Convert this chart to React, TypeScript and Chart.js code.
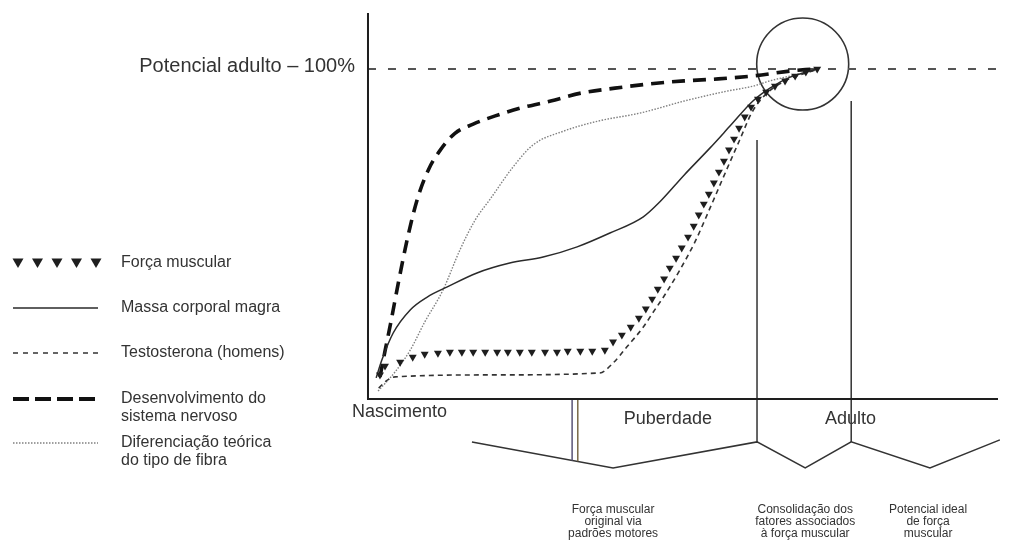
import React, { useEffect, useRef } from "react";
import { Chart, registerables } from "chart.js";

Chart.register(...registerables);

// ---------------- data (x: life course, 0 = birth … 100 = adult end; y: % of adult potential)
const potencialAdulto = 100;
const potencialLabel = "Potencial adulto – 100%";

const stageLabels = ["Nascimento", "Puberdade", "Adulto"];
const stageX = [5.0, 47.6, 76.6];
const stageY = [-3.8, -6.2, -6.2];

const legendNames = [
  ["Força muscular"],
  ["Massa corporal magra"],
  ["Testosterona (homens)"],
  ["Desenvolvimento do", "sistema nervoso"],
  ["Diferenciação teórica", "do tipo de fibra"],
];

// each triangle mark of "Força muscular"
const forcaMuscular: number[][] = [
  [1.9, 7.3], [2.7, 10.0], [5.1, 11.2], [7.1, 12.7], [9.0, 13.6], [11.1, 13.9],
  [13.0, 14.2], [14.9, 14.2], [16.7, 14.2], [18.6, 14.2], [20.5, 14.2], [22.2, 14.2],
  [24.1, 14.2], [26.0, 14.2], [28.1, 14.2], [30.0, 14.2], [31.7, 14.5], [33.7, 14.5],
  [35.6, 14.5], [37.6, 14.8], [38.9, 17.3], [40.3, 19.4], [41.7, 21.8], [43.0, 24.5],
  [44.1, 27.3], [45.1, 30.3], [46.0, 33.3], [47.0, 36.4], [47.9, 39.7], [48.9, 42.7],
  [49.8, 45.8], [50.8, 49.1], [51.7, 52.4], [52.5, 55.8], [53.3, 59.1], [54.1, 62.1],
  [54.9, 65.5], [55.7, 68.8], [56.5, 72.1], [57.3, 75.5], [58.1, 78.8], [58.9, 82.1],
  [59.8, 85.5], [60.8, 88.5], [61.9, 90.9], [63.2, 93.0], [64.6, 94.8], [66.2, 96.4],
  [67.8, 97.9], [69.5, 99.1], [71.3, 100],
];

const massaCorporal: number[][] = [
  [1.3, 6.4], [2.2, 11.8], [4.0, 20.0], [6.7, 27.0], [9.4, 30.9], [12.5, 33.9],
  [17.3, 38.2], [22.5, 41.2], [27.8, 43.0], [33.2, 46.1], [38.4, 50.3], [43.7, 55.2],
  [46.3, 59.7], [50.2, 67.9], [54.3, 76.1], [57.6, 83.0], [61.1, 90.3], [63.8, 94.2],
  [67.1, 97.6], [71.3, 100],
];

const testosterona: number[][] = [
  [1.7, 3.3], [2.9, 5.5], [4.3, 6.7], [19.8, 7.3], [36.8, 7.9], [38.9, 10.9],
  [41.1, 15.8], [43.7, 21.8], [45.2, 26.1], [47.1, 31.5], [49.5, 39.1], [51.9, 47.6],
  [54.3, 57.9], [56.7, 68.5], [59.0, 78.5], [60.9, 86.7], [63.0, 92.1], [66.2, 96.4],
  [71.0, 99.7],
];

const sistemaNervoso: number[][] = [
  [1.9, 6.7], [2.7, 14.5], [3.6, 23.0], [4.9, 36.0], [6.3, 49.0], [7.9, 61.0],
  [9.6, 69.5], [11.5, 75.5], [13.8, 80.5], [16.7, 83.3], [20.2, 85.8], [24.3, 88.2],
  [29.0, 90.3], [33.8, 92.7], [39.2, 94.2], [44.8, 95.5], [50.2, 96.4], [55.6, 97.0],
  [61.1, 97.9], [67.1, 99.4], [70.6, 100],
];

const tipoFibra: number[][] = [
  [1.6, 2.4], [4.3, 8.2], [6.7, 14.8], [9.0, 23.3], [11.9, 33.0], [14.6, 45.2],
  [17.0, 54.2], [19.4, 60.6], [22.9, 70.0], [26.2, 77.0], [31.1, 81.2], [36.5, 84.2],
  [43.3, 86.7], [50.2, 90.3], [57.0, 93.3], [61.1, 94.8], [63.8, 96.4], [67.1, 97.9],
  [70.6, 99.4],
];

// axes of the schema
const axisTop = 117;
const axisEnd = 100;
const refLineEnd = 100.6;

// phase boundaries: [x, yTop, yBottom]
const phaseLines: number[][] = [
  [32.4, 0, -18.6],
  [33.3, 0, -18.9],
  [61.75, 78.5, -13.0],
  [76.7, 90.3, -13.0],
];
const phaseLineColors = ["#5a5478", "#7a6a4a", "#333", "#333"];

// brackets under the time axis
const bracketX = [16.5, 38.9, 61.75, 69.4, 76.7, 89.2, 100.3];
const bracketY = [-13.0, -20.9, -13.0, -20.9, -13.0, -20.9, -12.4];

const bracketLabels = [
  ["Força muscular", "original via", "padrões motores"],
  ["Consolidação dos", "fatores associados", "à força muscular"],
  ["Potencial ideal", "de força", "muscular"],
];
const bracketLabelX = [38.9, 69.4, 88.9];
const bracketLabelY = [-33.6, -37.3, -40.9];

// highlighted convergence circle
const circleCenter = { x: 69.0, y: 101.5 };

// ---------------- layout / style
const W = 1014;
const H = 544;
const X_MIN = -58.41;
const X_MAX = 102.54;
const Y_MIN = -43.94;
const Y_MAX = 120.91;
const FONT = '"Liberation Sans", Arial, Helvetica, sans-serif';
const TEXT = "#333";
const INK = "#1e1e1e";
const legendRowY = [263, 308, 353, 399, 443];

const toXY = (a: number[][]) => a.map(([x, y]) => ({ x, y }));

const schemaTextPlugin = {
  id: "schemaText",
  afterDatasetsDraw(chart: any) {
    const { ctx } = chart;
    const xs = chart.scales.x;
    const ys = chart.scales.y;
    ctx.save();
    ctx.fillStyle = TEXT;

    // 100% label
    ctx.font = `20px ${FONT}`;
    ctx.textAlign = "right";
    ctx.textBaseline = "middle";
    ctx.fillText(potencialLabel, xs.getPixelForValue(0) - 13, ys.getPixelForValue(potencialAdulto) - 3);

    // stage labels
    ctx.font = `18px ${FONT}`;
    ctx.textAlign = "center";
    stageLabels.forEach((t, i) => {
      ctx.fillText(t, xs.getPixelForValue(stageX[i]), ys.getPixelForValue(stageY[i]));
    });

    // bracket labels
    ctx.font = `12px ${FONT}`;
    bracketLabels.forEach((lines, i) => {
      lines.forEach((t, j) => {
        ctx.fillText(t, xs.getPixelForValue(bracketLabelX[i]), ys.getPixelForValue(bracketLabelY[j]));
      });
    });

    // legend
    const x0 = 13;
    const x1 = 98;
    ctx.textAlign = "left";
    ctx.font = `16px ${FONT}`;
    legendNames.forEach((lines, i) => {
      const y = legendRowY[i];
      const ds = chart.data.datasets[i];
      ctx.save();
      if (i === 0) {
        ctx.fillStyle = INK;
        for (let k = 0; k < 5; k++) {
          const cx = 18 + k * 19.5;
          ctx.beginPath();
          ctx.moveTo(cx - 5.5, y - 4.5);
          ctx.lineTo(cx + 5.5, y - 4.5);
          ctx.lineTo(cx, y + 5);
          ctx.closePath();
          ctx.fill();
        }
      } else {
        ctx.strokeStyle = ds.borderColor;
        ctx.lineWidth = i === 3 ? 4 : ds.borderWidth;
        ctx.setLineDash(i === 3 ? [16, 6] : i === 2 ? [5, 5] : ds.borderDash || []);
        ctx.beginPath();
        ctx.moveTo(x0, y);
        ctx.lineTo(x1, y);
        ctx.stroke();
      }
      ctx.restore();
      lines.forEach((t, j) => ctx.fillText(t, 121, y + j * 18));
    });

    ctx.restore();
  },
};

export default function App() {
  const ref = useRef<HTMLCanvasElement | null>(null);

  useEffect(() => {
    if (!ref.current) return;
    const curve = (data: number[][], color: string, width: number, dash: number[]) => ({
      data: toXY(data),
      borderColor: color,
      borderWidth: width,
      borderDash: dash,
      pointRadius: 0,
      cubicInterpolationMode: "monotone" as const,
      fill: false,
    });
    const straight = (pts: { x: number; y: number }[], color: string, width: number, dash: number[] = []) => ({
      data: pts,
      borderColor: color,
      borderWidth: width,
      borderDash: dash,
      pointRadius: 0,
      tension: 0,
      fill: false,
    });

    const chart = new Chart(ref.current, {
      type: "line",
      data: {
        datasets: [
          {
            data: toXY(forcaMuscular),
            showLine: false,
            pointStyle: "triangle",
            rotation: 180,
            pointRadius: 4.6,
            pointBackgroundColor: INK,
            pointBorderColor: INK,
            pointBorderWidth: 0,
            borderColor: INK,
          } as any,
          curve(massaCorporal, "#2a2a2a", 1.5, []),
          curve(testosterona, "#333", 1.6, [5, 4]),
          curve(sistemaNervoso, "#111", 3.6, [13, 8]),
          curve(tipoFibra, "#808080", 1.4, [1.5, 1.5]),
          straight(
            [
              { x: 0, y: axisTop },
              { x: 0, y: 0 },
              { x: axisEnd, y: 0 },
            ],
            INK,
            2
          ),
          straight(
            [
              { x: 0, y: potencialAdulto },
              { x: refLineEnd, y: potencialAdulto },
            ],
            "#555",
            2,
            [8, 12]
          ),
          ...phaseLines.map(([x, y0, y1], i) =>
            straight(
              [
                { x, y: y0 },
                { x, y: y1 },
              ],
              phaseLineColors[i],
              1.5
            )
          ),
          straight(
            bracketX.map((x, i) => ({ x, y: bracketY[i] })),
            "#333",
            1.5
          ),
          {
            data: [circleCenter],
            showLine: false,
            pointStyle: "circle",
            pointRadius: 46,
            pointBackgroundColor: "rgba(0,0,0,0)",
            pointBorderColor: "#333",
            pointBorderWidth: 1.6,
          } as any,
        ],
      },
      options: {
        animation: false,
        responsive: false,
        maintainAspectRatio: false,
        events: [],
        layout: { padding: 0, autoPadding: false },
        scales: {
          x: { type: "linear", min: X_MIN, max: X_MAX, display: false },
          y: { type: "linear", min: Y_MIN, max: Y_MAX, display: false },
        },
        plugins: { legend: { display: false }, tooltip: { enabled: false } },
      },
      plugins: [schemaTextPlugin],
    });
    return () => chart.destroy();
  }, []);

  return (
    <div style={{ position: "absolute", left: 0, top: 0, width: W, height: H, background: "#fff" }}>
      <canvas ref={ref} width={W} height={H} style={{ display: "block", width: W, height: H }} />
    </div>
  );
}
